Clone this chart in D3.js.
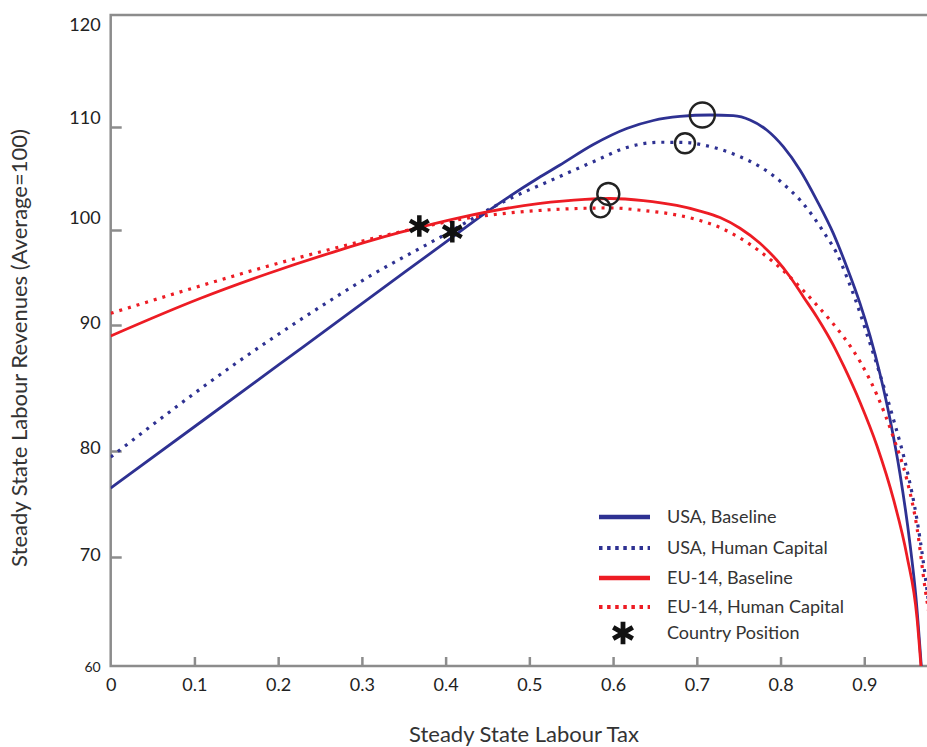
<!DOCTYPE html>
<html>
<head>
<meta charset="utf-8">
<script src="https://cdn.jsdelivr.net/npm/d3@7"></script>
<style>
  body { margin: 0; background: #fff; }
  svg { display: block; font-family: Lato, "Open Sans", sans-serif; }
</style>
</head>
<body>
<svg id="chart" width="927" height="747"></svg>
<script>
// tax rate, revenue (average = 100)
const usaBaseline = [[0,76.5],[0.1126,82.54],[0.232,88.37],[0.3515,95.58],[0.4073,99.19],[0.451,101.86],[0.5107,105.05],[0.5366,106.31],[0.5764,108.3],[0.6163,109.85],[0.648,110.58],[0.6799,110.94],[0.7158,111.07],[0.7436,111.01],[0.7635,110.63],[0.7835,109.71],[0.8033,108.09],[0.8232,105.83],[0.8432,102.91],[0.863,99.65],[0.879,96.14],[0.8949,92.28],[0.9069,89.13],[0.9188,86.11],[0.9307,82.54],[0.9427,77.83],[0.9546,71.23],[0.9618,66.24],[0.9681,60]]
const usaHuman = [[0,79.43],[0.1524,87.09],[0.232,90.87],[0.3117,95.26],[0.3913,99.13],[0.4709,102.82],[0.5267,104.85],[0.5764,106.63],[0.6163,108.01],[0.656,108.52],[0.6859,108.5],[0.7077,108.25],[0.7277,107.84],[0.7516,107.12],[0.7755,106.15],[0.7954,105.02],[0.8113,103.88],[0.8233,102.91],[0.8391,101.29],[0.8551,99.29],[0.8671,97.55],[0.879,95.08],[0.891,92.28],[0.9029,89.34],[0.9152,86.83],[0.9351,82.46],[0.951,78.21],[0.963,73.49],[0.971,69.27],[0.9749,66.97],[0.9785,64.68]]
const euBaseline = [[0,89.13],[0.1066,92.79],[0.1863,95.37],[0.2659,97.68],[0.3455,99.74],[0.4172,101.21],[0.5107,102.57],[0.5665,102.98],[0.5963,103.06],[0.6361,102.86],[0.676,102.38],[0.7038,101.84],[0.7277,101.21],[0.7516,100.17],[0.7755,98.6],[0.7954,96.84],[0.8113,95.08],[0.8272,92.98],[0.8432,90.87],[0.8551,89.34],[0.865,88.15],[0.8754,86.75],[0.8953,83.81],[0.9152,80.4],[0.9351,75.38],[0.951,70.09],[0.963,64.4],[0.9677,60]]
const euHuman = [[0,91.23],[0.1106,94.21],[0.1863,96.16],[0.2659,98.05],[0.3455,99.79],[0.4311,101.21],[0.5107,101.89],[0.5665,102.11],[0.5963,102.14],[0.6361,101.89],[0.676,101.46],[0.7038,100.92],[0.7277,100.24],[0.7516,99.16],[0.7755,97.74],[0.7914,96.63],[0.8113,95.05],[0.8272,93.63],[0.8432,92.11],[0.859,90.53],[0.8751,89.07],[0.885,88.15],[0.8953,87.06],[0.9152,84.44],[0.9351,81.03],[0.951,77.26],[0.963,72.74],[0.9729,66.97],[0.9785,64.22]]

// revenue maximising points (circles): tax, revenue, radius
const optima = [[0.7066,111.07,12.5],[0.6859,108.42,10],[0.5943,103.5,11],[0.585,102.17,9.7]]
// country positions (asterisks)
const countryPos = [[0.3686,100.39],[0.408,99.82]]

const xTicks = [0,0.1,0.2,0.3,0.4,0.5,0.6,0.7,0.8,0.9]
const yTicks = [60,70,80,90,100,110,120]
// small vertical shifts of the printed y labels
const yLabelShift = { 60: 1, 70: -2, 80: -3, 90: -2, 100: -12, 110: -9, 120: 10 }

const seriesNames = ['USA, Baseline','USA, Human Capital','EU-14, Baseline','EU-14, Human Capital']

const blue = '#2e3192'
const red = '#ed1c24'
const grey = '#8c8c8c'

const svg = d3.select('#chart')

const x = d3.scaleLinear().domain([0, 1]).range([110.7, 948])
// the printed axis has uneven tick spacing, so follow it piece by piece
const y = d3.scaleLinear().domain(yTicks).range([666, 557, 451, 325, 230, 127, 15])

svg.append('clipPath').attr('id', 'plotclip')
    .append('rect')
    .attr('x', x(0)).attr('y', y(120))
    .attr('width', 927 - x(0)).attr('height', y(60) - y(120))

// axes
let xAxis = svg.append('g')
    .attr('transform', `translate(0,${y(60)})`)
    .call(d3.axisBottom(x).tickValues(xTicks).tickSizeInner(-9).tickSizeOuter(0).tickPadding(12)
        .tickFormat(d => d === 0 ? '0' : d3.format('.1f')(d)))
xAxis.select('.domain').remove()
xAxis.selectAll('.tick line').attr('stroke', grey).attr('stroke-width', 2.5)
    .filter(d => d === 0).remove()
xAxis.selectAll('.tick text').attr('font-size', 18).attr('fill', '#222').attr('font-family', 'Lato')

let yAxis = svg.append('g')
    .attr('transform', `translate(${x(0)},0)`)
    .call(d3.axisLeft(y).tickValues(yTicks).tickSizeInner(-11).tickSizeOuter(0).tickPadding(10))
yAxis.select('.domain').remove()
yAxis.selectAll('.tick line').attr('stroke', grey).attr('stroke-width', 2.5)
    .filter(d => d === 60 || d === 120).remove()
yAxis.selectAll('.tick text')
    .attr('font-size', d => d === 60 ? 14 : 18)
    .attr('fill', '#222')
    .attr('font-family', 'Lato')
    .attr('y', d => yLabelShift[d])

// frame
svg.append('path')
    .attr('d', `M927,${y(120)}H${x(0)}V${y(60)}H927`)
    .attr('fill', 'none')
    .attr('stroke', grey)
    .attr('stroke-width', 2.5)

// curves
const line = d3.line()
    .x(d => x(d[0]))
    .y(d => y(d[1]))
    .curve(d3.curveMonotoneX)

const curves = [
    { data: usaBaseline, color: blue, dash: null },
    { data: usaHuman, color: blue, dash: '3,6' },
    { data: euBaseline, color: red, dash: null },
    { data: euHuman, color: red, dash: '3,6' }
]

let plot = svg.append('g').attr('clip-path', 'url(#plotclip)')

curves.forEach(c => {
    plot.append('path')
        .datum(c.data)
        .attr('d', line)
        .attr('fill', 'none')
        .attr('stroke', c.color)
        .attr('stroke-width', c.dash ? 3.2 : 2.8)
        .attr('stroke-dasharray', c.dash)
})

// optimum circles
svg.selectAll('.opt')
    .data(optima)
    .enter()
    .append('circle')
    .attr('class', 'opt')
    .attr('cx', d => x(d[0]))
    .attr('cy', d => y(d[1]))
    .attr('r', d => d[2])
    .attr('fill', 'none')
    .attr('stroke', '#222')
    .attr('stroke-width', 2.4)

// country positions
const star = d3.symbol().type(d3.symbolAsterisk).size(330)
svg.selectAll('.star')
    .data(countryPos)
    .enter()
    .append('path')
    .attr('class', 'star')
    .attr('d', star)
    .attr('transform', d => `translate(${x(d[0])},${y(d[1])})`)
    .attr('fill', 'none')
    .attr('stroke', '#111')
    .attr('stroke-width', 4.5)

// legend
const legendY = [517, 548, 578, 607, 633]
let legend = svg.append('g')

curves.forEach((c, i) => {
    legend.append('line')
        .attr('x1', 599).attr('x2', 650)
        .attr('y1', legendY[i]).attr('y2', legendY[i])
        .attr('stroke', c.color)
        .attr('stroke-width', c.dash ? 4 : 4.5)
        .attr('stroke-dasharray', c.dash ? '3.5,4.6' : null)
    legend.append('text')
        .attr('x', 667).attr('y', legendY[i])
        .attr('dy', '0.35em')
        .attr('font-size', 18)
        .attr('fill', '#333')
        .text(seriesNames[i])
})

legend.append('path')
    .attr('d', d3.symbol().type(d3.symbolAsterisk).size(360))
    .attr('transform', `translate(623,${legendY[4]})`)
    .attr('fill', 'none')
    .attr('stroke', '#111')
    .attr('stroke-width', 4.8)
legend.append('text')
    .attr('x', 667).attr('y', legendY[4])
    .attr('dy', '0.35em')
    .attr('font-size', 18)
    .attr('fill', '#333')
    .text('Country Position')

// axis titles
svg.append('text')
    .attr('x', 524).attr('y', 742)
    .attr('text-anchor', 'middle')
    .attr('font-size', 22)
    .attr('fill', '#333')
    .text('Steady State Labour Tax')

svg.append('text')
    .attr('transform', 'translate(27,348) rotate(-90)')
    .attr('text-anchor', 'middle')
    .attr('font-size', 22)
    .attr('fill', '#333')
    .text('Steady State Labour Revenues (Average=100)')
</script>
</body>
</html>
